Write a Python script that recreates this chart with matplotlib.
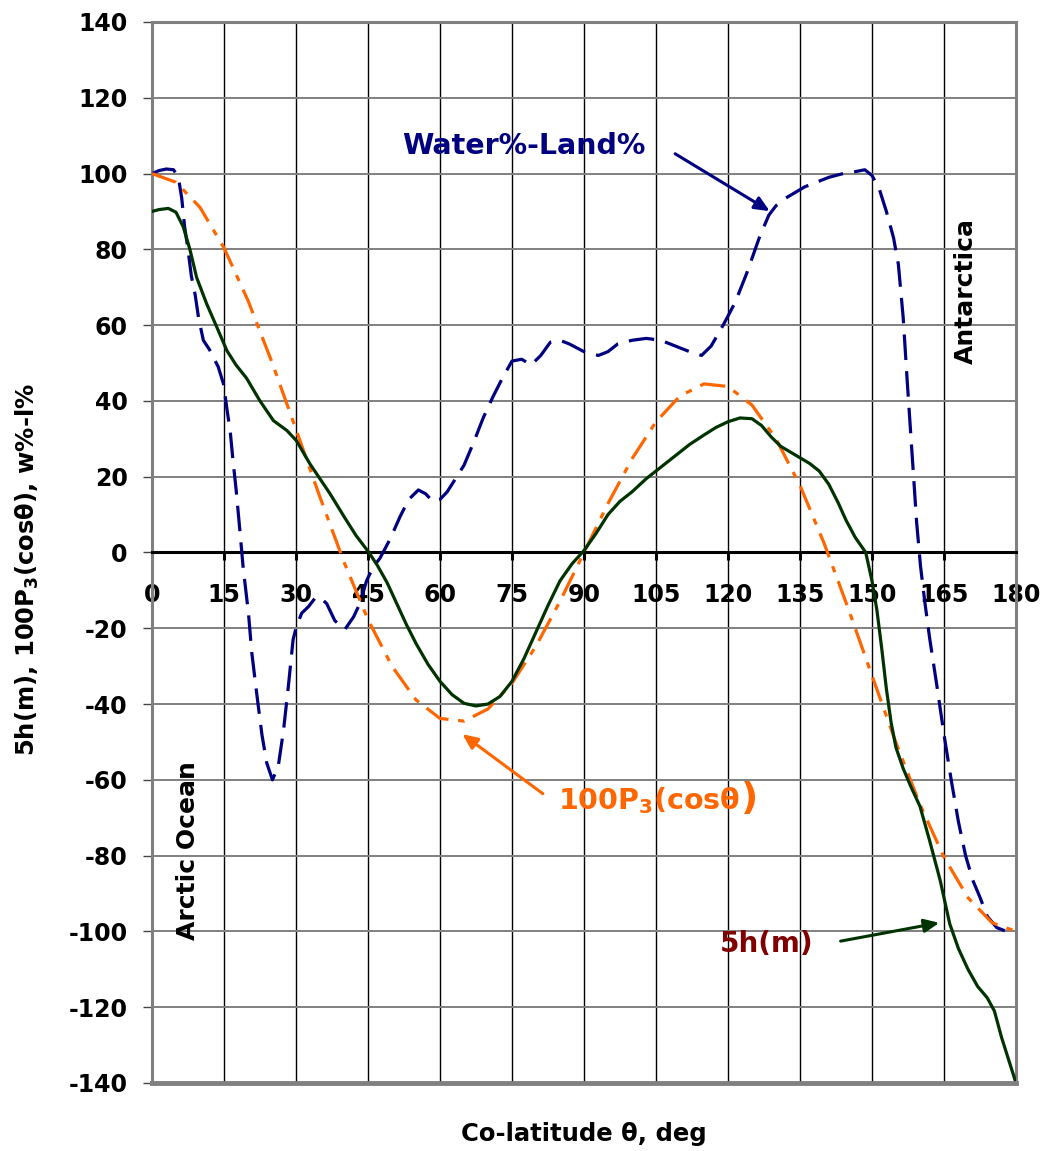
import numpy as np
import matplotlib
matplotlib.use("Agg")
import matplotlib.pyplot as plt

plt.rcParams['font.family'] = ['DejaVu Sans']
plt.rcParams['font.weight'] = 'bold'
plt.rcParams['mathtext.fontset'] = 'dejavusans'
plt.rcParams['axes.unicode_minus'] = False

# Water%-Land%  (co-latitude, value)
water_theta = [0, 1.5, 3, 4.5, 5.5, 6.2, 6.8, 7.5, 8.2, 9, 9.7, 10.7, 12, 13.8, 14.9,
               15.6, 16.3, 16.9, 17.5, 18.3, 19, 20.1, 20.8, 21.8, 22.9, 23.9, 25.1,
               26.3, 27.4, 28.4, 29.4, 30.1, 31.2, 32.6, 34, 35, 36.4, 38.1, 40.2, 42,
               43.3, 44.7, 46, 47.5, 49.6, 51.7, 53.5, 55.5, 57, 58.5, 60, 61.5, 63,
               65, 67, 69, 71, 73, 75, 77, 79, 81, 83, 85, 87, 90, 93, 95, 97, 100,
               103, 106, 109, 112, 114.5, 116.5, 119, 121.5, 124, 126.5, 128.5, 130,
               132, 134, 136, 138, 141, 144, 146.5, 148.5, 150, 151.5, 153, 154.5,
               155.5, 156.5, 157.3, 158.3, 159.3, 160.1, 161, 162, 163.5, 165, 166.5,
               168, 169.5, 171, 172.5, 174, 176, 178, 180]
water_val = [100, 100.8, 101.2, 101, 99, 93.5, 86, 80, 73, 68, 62, 56, 53.5, 49, 44.5,
             38, 32, 24, 17, 6, -4, -16, -26.5, -37, -48, -55.5, -60,
             -56.5, -47, -35.5, -23, -19.5, -16, -14.3, -12, -11.8, -13.5, -18, -20.3, -17,
             -13.5, -7.5, -4, -1.5, 3.5, 9.5, 14, 16.5, 15.5, 13.5, 14, 16, 19,
             23, 29, 35.5, 41, 46, 50.5, 51, 49.5, 52, 55.5, 56, 55, 53, 52, 53, 55, 56,
             56.5, 56, 54.5, 53, 52, 54.5, 60, 66, 74, 83, 89, 91.5,
             93.5, 95, 96.5, 97.5, 99, 100, 100.5, 101, 99.5, 96, 90, 83,
             76, 62, 46, 27, 8, -3.5, -13, -22.5, -35, -48, -60,
             -71, -80, -86.5, -91, -96, -99, -100, -100]

# 100 P3(cos theta)
p3_theta = list(range(0, 181, 5))
p3_val = [100, 97.7, 91.1, 80.4, 66.5, 50.2, 32.5, 14.6, -2.5, -17.7, -30.0, -38.9,
          -43.8, -44.5, -41.3, -34.5, -24.7, -12.9, 0, 12.9, 24.7, 34.5, 41.3, 44.5,
          43.8, 38.9, 30.0, 17.7, 2.5, -14.6, -32.5, -50.2, -66.5, -80.4, -91.1,
          -97.7, -100]

# 5h(m)
h_theta = [0, 1.5, 3.4, 5, 6.5, 7.9, 9.3, 11.4, 13.5, 15.6, 17.5, 19.7, 22.5, 25.3,
           28.1, 30.1, 32.9, 37.1, 40, 42.5, 45.2, 47, 49, 51, 53, 55, 57.5, 60, 62.5,
           65, 67.5, 70, 72.5, 75, 77.5, 80, 82.5, 85, 87.5, 90, 92.5, 95, 97.5, 100,
           103, 106, 109, 112, 115, 117.5, 120, 122.5, 125, 127, 129, 131, 133, 135,
           137, 139, 141, 143, 144.6, 146.5, 148.7, 150, 151, 152, 153, 154, 155,
           156.5, 158, 160, 162, 164.2, 166.2, 168, 170, 172, 174, 175.5, 177, 178.5, 180]
h_val = [90, 90.5, 90.8, 89.8, 86, 80, 72.6, 65.6, 59.5, 53.3, 49.5, 46, 40, 34.8,
         32.2, 29.5, 23.4, 15.5, 9.5, 4.5, 0, -3.5, -8, -13.5, -19, -24, -29.5, -34, -37.5,
         -39.8, -40.5, -40, -38, -34, -28, -21, -14, -7.5, -3, 0.5, 5, 10, 13.5, 16,
         19.5, 22.5, 25.5, 28.5, 31, 33, 34.5, 35.5, 35.3, 33.5, 30.5, 28, 26.5, 25,
         23.5, 21.5, 18, 13, 8.5, 4, 0, -7.5, -15, -25, -36, -45, -51.5,
         -57, -61.5, -67, -76, -86.5, -98, -104.5, -110, -114.5, -117.5, -121, -128, -134, -140]

x_ticks = list(range(0, 181, 15))
y_ticks = list(range(-140, 141, 20))

navy = '#000080'
orange = '#FF6600'
green = '#003300'
grey = '#808080'

fig = plt.figure(figsize=(10.43, 11.51), dpi=100)
ax = fig.add_axes([0.1457, 0.0591, 0.8284, 0.9218])

ax.plot(water_theta, water_val, color=navy, lw=2.3, dashes=[8, 3.5], zorder=3)
ax.plot(p3_theta, p3_val, color=orange, lw=2.3, dashes=[8, 3, 2, 3], zorder=3)
ax.plot(h_theta, h_val, color=green, lw=2.3, zorder=4)

ax.set_xlim(0, 180)
ax.set_ylim(-140, 140)
ax.set_xticks(x_ticks)
ax.set_yticks(y_ticks)

ax.set_axisbelow(True)
ax.xaxis.grid(True, color='black', lw=1.0)
ax.yaxis.grid(True, color=grey, lw=1.4)

for s in ['left', 'right', 'top']:
    ax.spines[s].set_color(grey)
    ax.spines[s].set_linewidth(2.2)
ax.spines['bottom'].set_position(('data', 0))
ax.spines['bottom'].set_color('black')
ax.spines['bottom'].set_linewidth(2.2)
ax.axhline(-140, color=grey, lw=3.5, clip_on=False, zorder=5)

ax.tick_params(axis='x', direction='out', length=6, width=2.2, pad=16, labelsize=17)
ax.tick_params(axis='y', direction='out', length=6.5, width=1, color='#444444',
               pad=11, labelsize=17)
for lab in ax.get_xticklabels() + ax.get_yticklabels():
    lab.set_fontweight('bold')

ax.set_xlabel('Co-latitude θ, deg', fontsize=17.5, fontweight='bold')
ax.xaxis.set_label_coords(0.5, -0.037)
ax.set_ylabel(r'5h(m), 100P$_\mathbf{3}$(cosθ), w%-l%', fontsize=17.5, fontweight='bold')
ax.yaxis.set_label_coords(-0.128, 0.4835)

# labels and arrows
ax.annotate('', xy=(129.2, 89.7), xytext=(108.5, 105.6),
            arrowprops=dict(arrowstyle='-|>,head_length=0.9,head_width=0.4', color=navy, lw=2.2))
ax.text(77.5, 107.4, 'Water%-Land%', color=navy, fontsize=20.5, fontweight='bold',
        ha='center', va='center')

ax.annotate('', xy=(64.2, -47.5), xytext=(81.9, -64.1),
            arrowprops=dict(arrowstyle='-|>,head_length=0.9,head_width=0.4', color=orange, lw=2.2))
ax.text(84.5, -65.4, r'100P$_\mathbf{3}$(cosθ', color=orange, fontsize=20.5,
        fontweight='bold', ha='left', va='center')
ax.text(122.6, -65.0, ')', color=orange, fontsize=27, fontweight='bold',
        ha='left', va='center')

ax.annotate('', xy=(164.6, -97.6), xytext=(142.9, -102.7),
            arrowprops=dict(arrowstyle='-|>,head_length=0.9,head_width=0.4', color=green, lw=2.2))
ax.text(128.1, -103.2, '5h(m)', color='#800000', fontsize=20, fontweight='bold',
        ha='center', va='center')

ax.text(7.5, -78.6, 'Arctic Ocean', rotation=90, fontsize=18, fontweight='bold',
        ha='center', va='center')
ax.text(169.6, 68.9, 'Antarctica', rotation=90, fontsize=18, fontweight='bold',
        ha='center', va='center')

fig.savefig('out.png', dpi=100)
